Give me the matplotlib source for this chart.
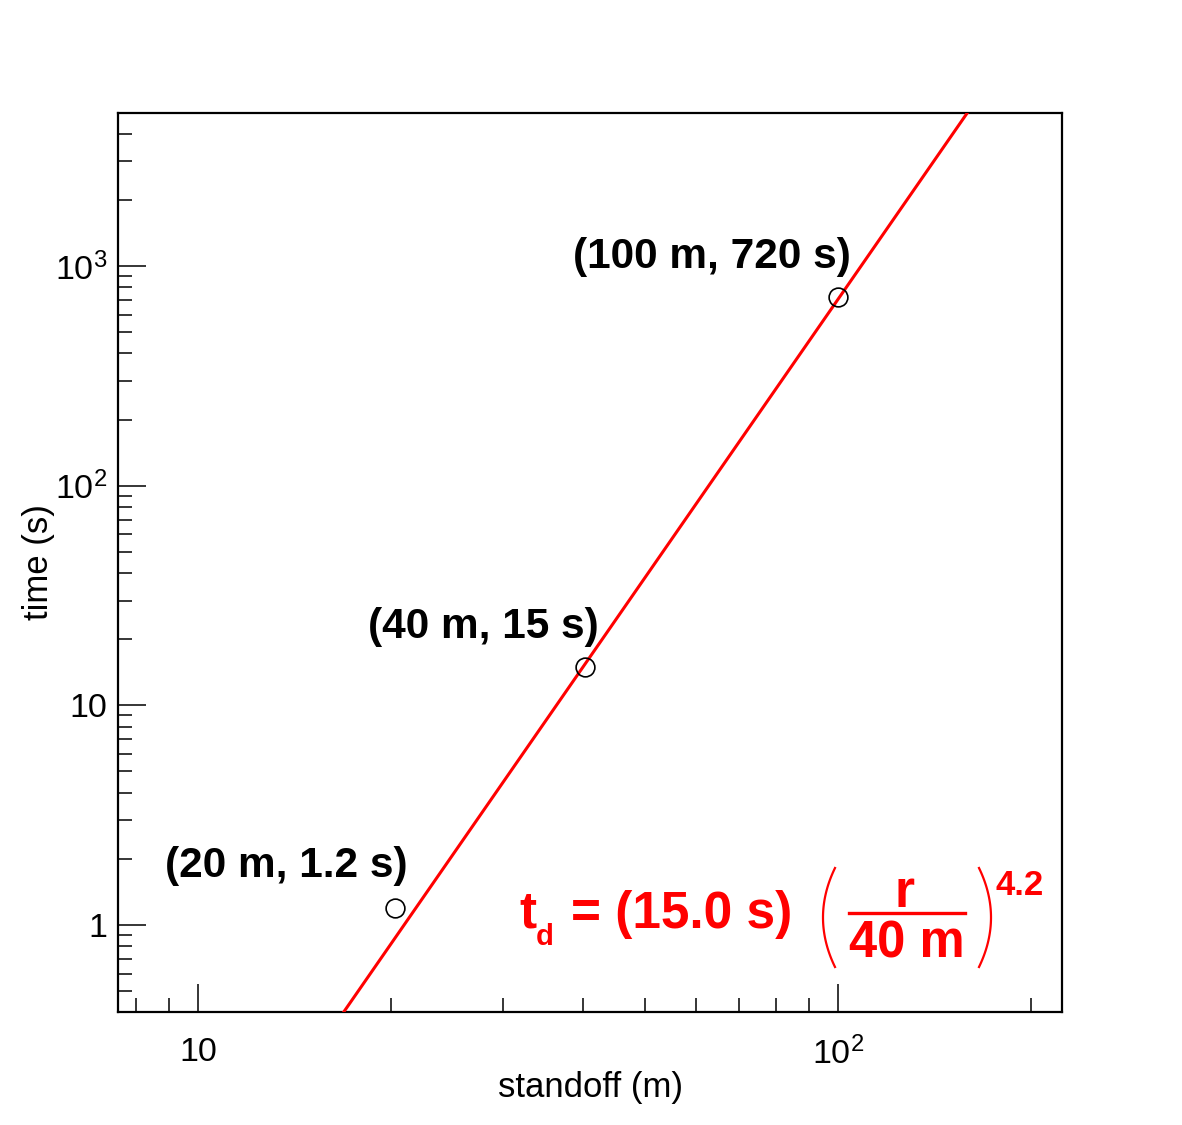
import numpy as np
import matplotlib
matplotlib.use("Agg")
import matplotlib.pyplot as plt
from matplotlib.ticker import FixedLocator, NullFormatter
from matplotlib.lines import Line2D

# ---- data ----
standoff_m = [20.3, 40.2, 100]
time_s = [1.2, 15, 720]
point_labels = ["(20 m, 1.2 s)", "(40 m, 15 s)", "(100 m, 720 s)"]
fit_t0 = 15.0
fit_r0 = 40.0
fit_exp = 4.2
x_range = (7.5, 224)
y_range = (0.402, 4970)
x_major = [10, 100]
x_major_labels = ["10", r"$10^{2}$"]
y_major = [1, 10, 100, 1000]
y_major_labels = ["1", "10", r"$10^{2}$", r"$10^{3}$"]

plt.rcParams["font.family"] = ["Liberation Sans", "DejaVu Sans"]
plt.rcParams["mathtext.fontset"] = "custom"
plt.rcParams["mathtext.rm"] = "Liberation Sans"
plt.rcParams["mathtext.it"] = "Liberation Sans"
plt.rcParams["mathtext.bf"] = "Liberation Sans:bold"

W, H = 1182, 1125
fig = plt.figure(figsize=(W / 100, H / 100), dpi=100)
ax = fig.add_axes([118 / W, 1 - 1012 / H, (1062 - 118) / W, (1012 - 113) / H])

def px(x, y):
    return x / W, 1 - y / H

ax.set_xscale("log")
ax.set_yscale("log")
ax.set_xlim(*x_range)
ax.set_ylim(*y_range)

# fit line
r = np.logspace(np.log10(15), np.log10(180), 400)
t = fit_t0 * (r / fit_r0) ** fit_exp
ax.plot(r, t, color="#ff0000", lw=2.2, zorder=3)

# points
ax.plot(standoff_m, time_s, ls="none", marker="o", ms=13.5, mfc="none",
        mec="black", mew=1.2, zorder=4)

# ticks
ax.xaxis.set_major_locator(FixedLocator(x_major))
ax.set_xticklabels(x_major_labels)
ax.yaxis.set_major_locator(FixedLocator(y_major))
ax.set_yticklabels(y_major_labels)
xminor = [m * d for d in (1, 10, 100) for m in range(2, 10)]
yminor = [m * d for d in (0.1, 1, 10, 100, 1000) for m in range(2, 10)]
ax.xaxis.set_minor_locator(FixedLocator(xminor))
ax.yaxis.set_minor_locator(FixedLocator(yminor))
ax.xaxis.set_minor_formatter(NullFormatter())
ax.yaxis.set_minor_formatter(NullFormatter())
ax.tick_params(which="both", direction="in", top=False, right=False,
               width=1.1, color="black", labelsize=24.5)
ax.tick_params(which="major", length=20)
ax.tick_params(which="minor", length=10)
ax.tick_params(axis="x", which="major", pad=18)
ax.tick_params(axis="y", which="major", pad=8)
for s in ax.spines.values():
    s.set_linewidth(1.6)

fig.text(*px(590, 1097), "standoff (m)", ha="center", va="baseline", fontsize=25)
fig.text(*px(48, 562), "time (s)", ha="center", va="baseline", fontsize=25,
         rotation=90, rotation_mode="anchor")

# point labels
label_pos = [(165, 877), (368, 638), (573, 268)]
for lab, (lx, ly) in zip(point_labels, label_pos):
    fig.text(*px(lx, ly), lab, ha="left", va="baseline", fontsize=30.5,
             fontweight="bold", color="black")

# formula
red = "#ff0000"
fs = 37
fig.text(*px(519, 928), "t", ha="left", va="baseline", fontsize=fs,
         fontweight="bold", color=red)
fig.text(*px(536, 945), "d", ha="left", va="baseline", fontsize=21,
         fontweight="bold", color=red)
fig.text(*px(571, 928), "= (%.1f s)" % fit_t0, ha="left", va="baseline",
         fontsize=fs, fontweight="bold", color=red)
fig.text(*px(905, 907), "r", ha="center", va="baseline", fontsize=fs,
         fontweight="bold", color=red)
fig.text(*px(907, 958), "%d m" % fit_r0, ha="center", va="baseline",
         fontsize=36.5, fontweight="bold", color=red)
fig.text(*px(996, 895), "%.1f" % fit_exp, ha="left", va="baseline",
         fontsize=25, fontweight="bold", color=red)
x0, y0 = px(849, 913)
x1, _ = px(965, 913)
fig.add_artist(Line2D([x0, x1], [y0, y0], color=red, lw=2.4,
                      transform=fig.transFigure))
# big brackets
s = np.linspace(-1, 1, 60)
yy = 917.5 + 49.5 * s
bulge = 12 * (1 - s ** 2)
for xc, sign in ((835, -1), (979, 1)):
    xs = xc + sign * bulge
    fx = xs / W
    fy = 1 - yy / H
    fig.add_artist(Line2D(fx, fy, color=red, lw=1.6, transform=fig.transFigure))

fig.savefig("out.png", dpi=100, facecolor="white")
